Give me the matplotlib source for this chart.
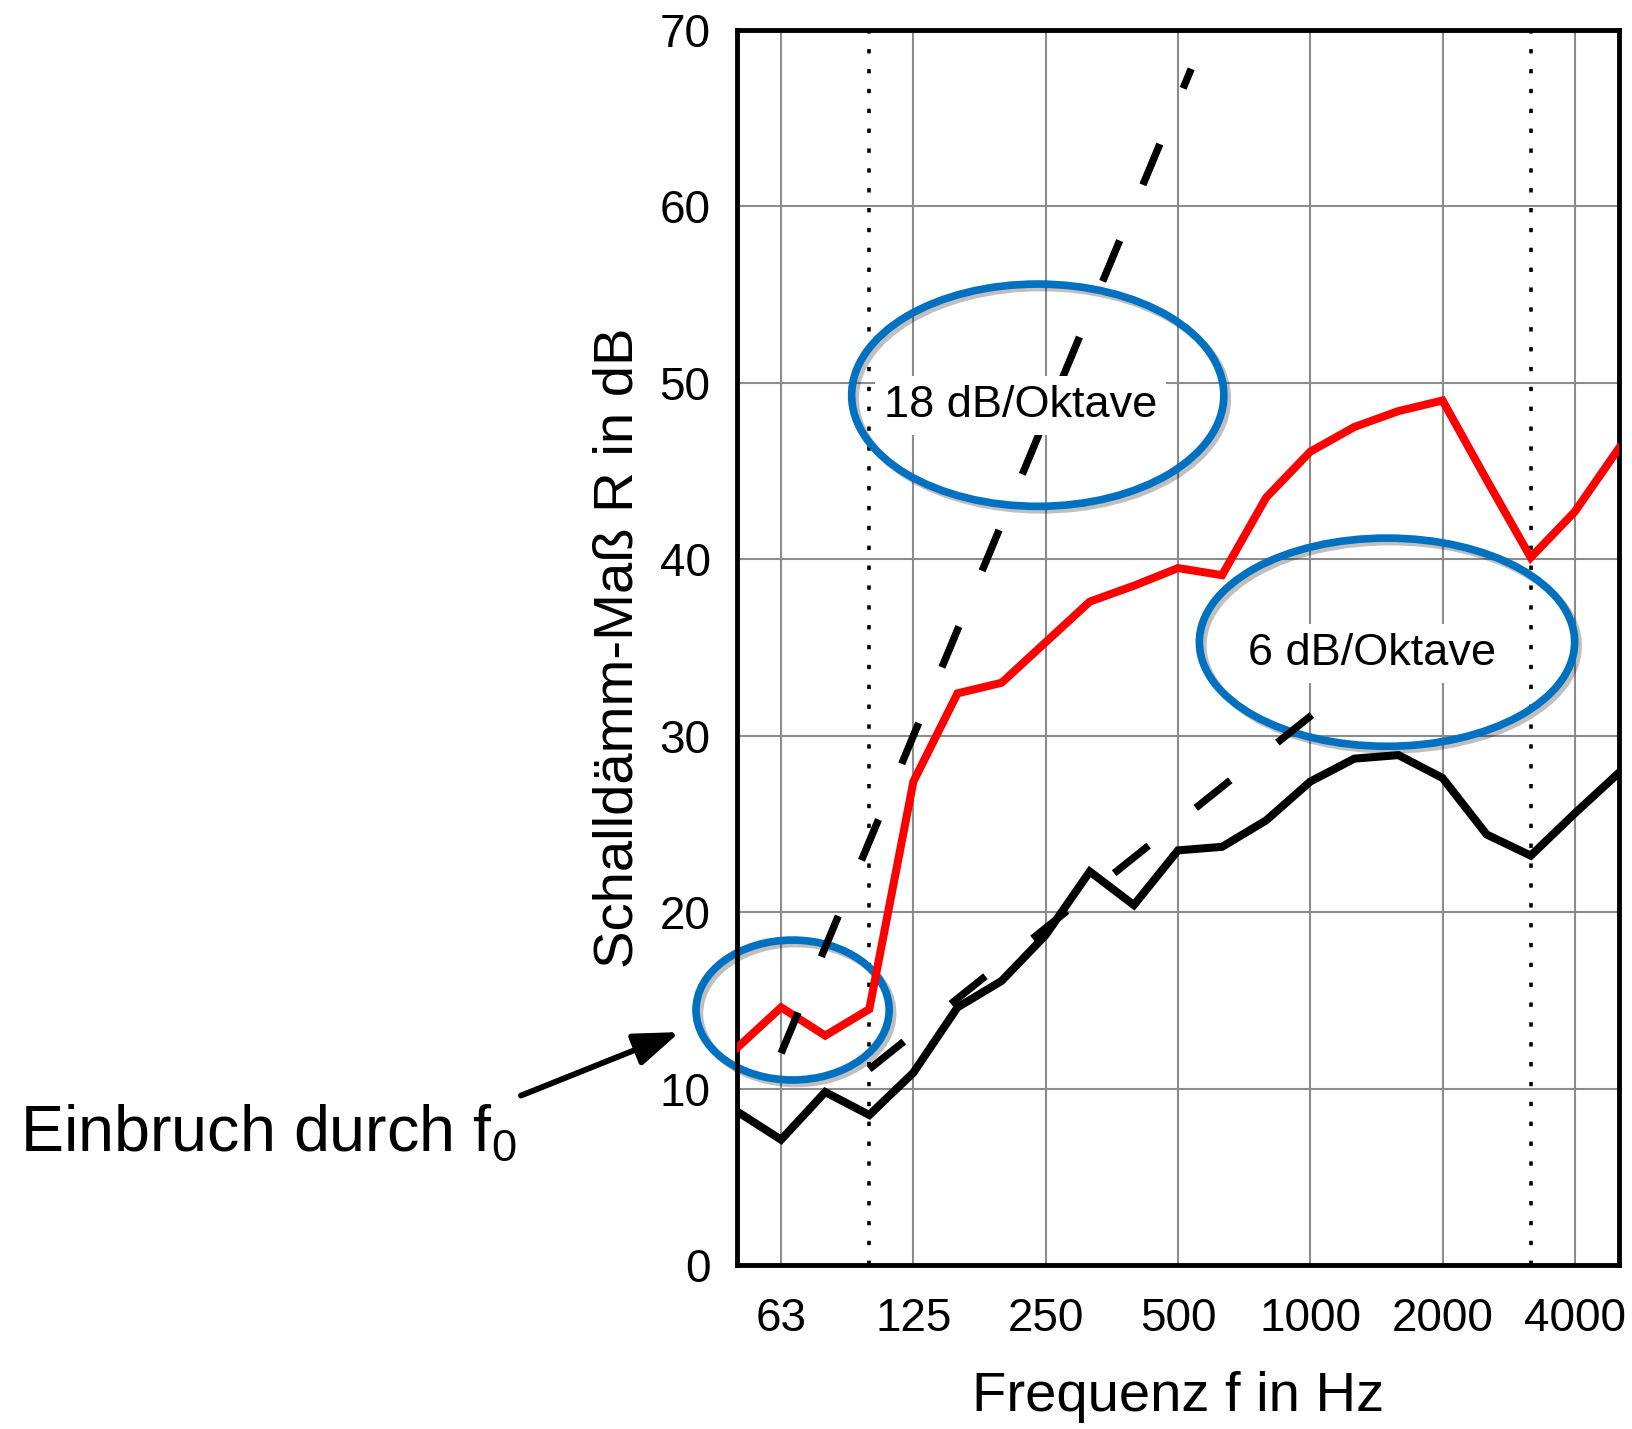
import matplotlib
matplotlib.use('Agg')
import matplotlib.pyplot as plt
import matplotlib.patheffects as pe
from matplotlib.patches import Ellipse
import numpy as np

plt.rcParams['font.family'] = ['Liberation Sans', 'DejaVu Sans']
plt.rcParams['mathtext.fontset'] = 'custom'
plt.rcParams['mathtext.rm'] = 'Liberation Sans'
plt.rcParams['mathtext.it'] = 'Liberation Sans'
plt.rcParams['mathtext.default'] = 'regular'

# Terzbaender 50 Hz ... 5000 Hz
bands = [50, 63, 80, 100, 125, 160, 200, 250, 315, 400, 500, 630, 800,
         1000, 1250, 1600, 2000, 2500, 3150, 4000, 5000]
r_red = [12.3, 14.6, 13.0, 14.5, 27.4, 32.4, 33.0, 35.3, 37.6, 38.5, 39.5,
         39.1, 43.5, 46.1, 47.5, 48.4, 49.0, 44.5, 40.1, 42.7, 46.3]
r_black = [8.7, 7.1, 9.8, 8.5, 10.9, 14.6, 16.1, 18.7, 22.3, 20.4, 23.5,
           23.7, 25.2, 27.4, 28.7, 28.9, 27.6, 24.4, 23.2, 25.6, 27.9]
tick_labels = ['63', '125', '250', '500', '1000', '2000', '4000']
marked_bands = [100, 3150]

# Steigungsgeraden (Position in Terzbaendern, R in dB)
slope18_x = [1.0, 10.3]
slope18_r = [12.0, 67.8]
slope6_x = [3.0, 14.2]
slope6_r = [11.1, 33.5]

x = np.arange(len(bands))
tick_pos = [bands.index(int(t)) for t in tick_labels]

fig = plt.figure(figsize=(16.32, 14.29), dpi=100)
ax = fig.add_axes([0.4516, 0.1148, 0.5404, 0.8642])
ax.set_xlim(0, len(bands) - 1)
ax.set_ylim(0, 70)

ax.set_xticks(tick_pos)
ax.set_xticklabels(tick_labels)
ax.set_yticks(range(0, 71, 10))
ax.tick_params(length=0, labelsize=33, colors='black')
ax.tick_params(axis='y', pad=19)
ax.tick_params(axis='x', pad=23)
ax.grid(True, color='#8c8c8c', lw=1.5, zorder=0)
ax.set_axisbelow(True)
for s in ax.spines.values():
    s.set_linewidth(3.5)

for b in marked_bands:
    ax.axvline(bands.index(b), color='black', lw=2.6,
               linestyle=(0, (1.2, 4.3)), zorder=1)

shadow = [pe.SimpleLineShadow(offset=(2.5, -2.5), shadow_color='black', alpha=0.25),
          pe.Normal()]
ellipses = [(6.82, 49.3, 8.44, 12.6), (14.74, 35.3, 8.51, 11.8), (1.26, 14.45, 4.38, 7.93)]
for cx, cy, w, h in ellipses:
    e = Ellipse((cx, cy), w, h, fill=False, edgecolor='#0070C0', lw=5.5,
                clip_on=False, zorder=2)
    e.set_path_effects(shadow)
    ax.add_patch(e)

ax.plot(x, r_black, color='black', lw=5.8, solid_joinstyle='miter', zorder=3)
ax.plot(x, r_red, color='#ff0000', lw=5.8, solid_joinstyle='miter', zorder=3)
ax.plot(slope18_x, slope18_r, color='black', lw=5.3, linestyle=(0, (6.0, 8.2)),
        dash_capstyle='butt', zorder=3)
ax.plot(slope6_x, slope6_r, color='black', lw=5.3, linestyle=(0, (6.0, 8.2)),
        dash_capstyle='butt', zorder=3)

box = dict(boxstyle='square,pad=0.2', facecolor='white', edgecolor='none')
ax.text(6.43, 48.05, '18 dB/Oktave', fontsize=32.5, ha='center', va='baseline',
        bbox=box, zorder=4)
ax.text(14.4, 34.0, '6 dB/Oktave', fontsize=32.5, ha='center', va='baseline',
        bbox=box, zorder=4)

ax.annotate('', xy=(-1.3, 13.2), xytext=(-4.9, 9.6), annotation_clip=False,
            arrowprops=dict(arrowstyle='-|>,head_length=1.1,head_width=0.4',
                            mutation_scale=25, lw=4.2, color='black',
                            shrinkA=0, shrinkB=0))
ax.text(-16.25, 6.46, 'Einbruch durch f$_0$', fontsize=46.5, ha='left',
        va='baseline', clip_on=False)

ax.set_xlabel('Frequenz f in Hz', fontsize=40.5, labelpad=22)
ax.set_ylabel('Schalldämm-Maß R in dB', fontsize=40.5, labelpad=11)

fig.savefig('out.png', dpi=100)
